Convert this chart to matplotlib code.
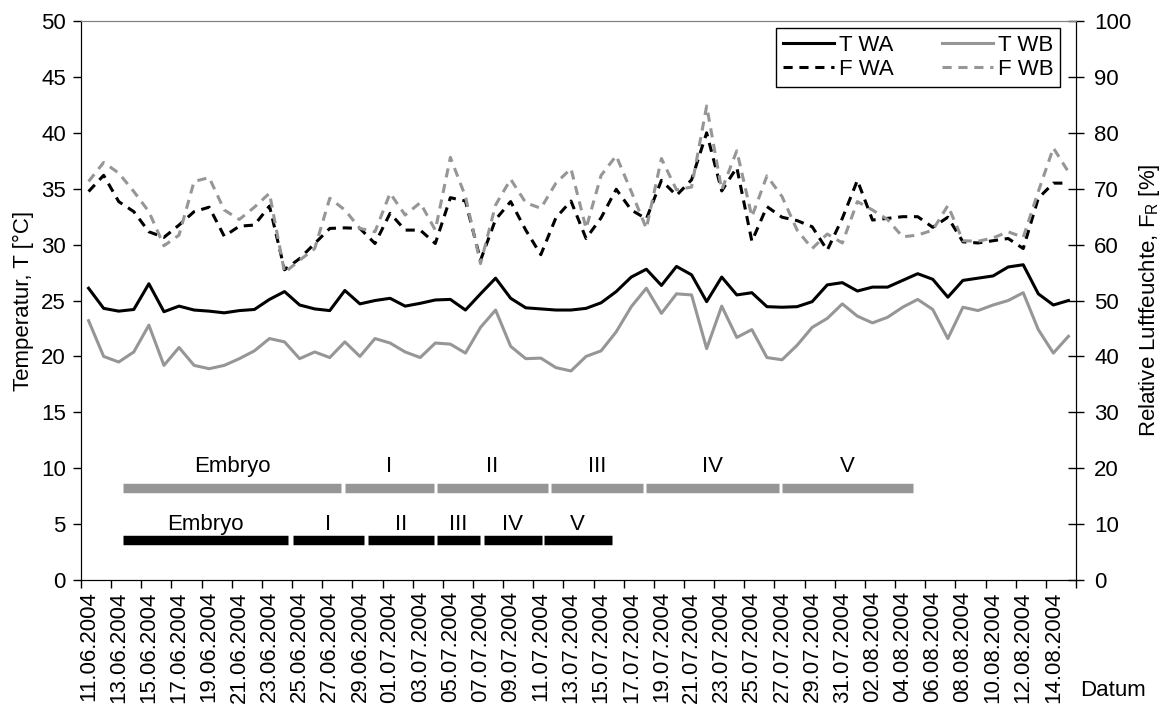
import numpy as np
import pandas as pd
import matplotlib
matplotlib.use('Agg')
import matplotlib.pyplot as plt

plt.rcParams['font.family'] = ['Liberation Sans', 'DejaVu Sans']
plt.rcParams['font.size'] = 16
plt.rcParams['mathtext.fontset'] = 'custom'
plt.rcParams['mathtext.rm'] = 'Liberation Sans'

dates = list(pd.date_range('2004-06-11', '2004-08-15').strftime('%d.%m.%Y'))

# Temperatur [°C]
t_wa = [26.1, 24.3, 24.05, 24.2, 26.5, 24.0, 24.5, 24.15, 24.05, 23.9, 24.1, 24.2, 25.1, 25.8,
        24.6, 24.25, 24.1, 25.9, 24.7, 25.0, 25.2, 24.5, 24.75, 25.05, 25.1, 24.15, 25.6, 27.0,
        25.2, 24.35, 24.25, 24.15, 24.15, 24.3, 24.8, 25.8, 27.1, 27.8, 26.35, 28.05, 27.3, 24.9,
        27.1, 25.5, 25.7, 24.45, 24.4, 24.45, 24.9, 26.4, 26.6, 25.85, 26.2, 26.2, 26.8, 27.4,
        26.9, 25.3, 26.8, 27.0, 27.2, 28.0, 28.2, 25.6, 24.6, 25.0]
t_wb = [23.2, 20.0, 19.5, 20.4, 22.8, 19.2, 20.8, 19.2, 18.9, 19.2, 19.8, 20.5, 21.6, 21.3,
        19.8, 20.4, 19.9, 21.3, 20.0, 21.6, 21.2, 20.4, 19.9, 21.2, 21.1, 20.3, 22.6, 24.15,
        20.9, 19.8, 19.85, 19.0, 18.7, 20.0, 20.5, 22.2, 24.45, 26.1, 23.85, 25.6, 25.5, 20.7,
        24.5, 21.7, 22.4, 19.9, 19.7, 21.0, 22.6, 23.4, 24.7, 23.6, 23.0, 23.5, 24.4, 25.1,
        24.2, 21.6, 24.4, 24.1, 24.6, 25.0, 25.7, 22.4, 20.3, 21.8]

# Relative Luftfeuchte [%]
f_wa = [69.5, 72.4, 67.7, 65.9, 62.3, 61.3, 63.5, 65.9, 66.7, 61.5, 63.3, 63.5, 66.9, 55.5,
        57.5, 60.2, 62.9, 63.0, 62.9, 60.2, 65.6, 62.6, 62.6, 60.2, 68.4, 67.8, 57.2, 64.5,
        67.7, 62.6, 58.2, 64.8, 67.8, 61.1, 64.8, 69.9, 66.2, 64.6, 71.5, 68.8, 71.6, 80.0,
        69.6, 73.8, 60.6, 66.8, 64.9, 64.3, 63.2, 59.0, 64.7, 71.5, 64.4, 64.7, 65.0, 65.0,
        63.1, 64.9, 60.5, 60.3, 60.7, 61.1, 59.3, 68.3, 71.0, 71.0]
f_wb = [71.3, 74.7, 72.8, 69.5, 65.9, 59.8, 61.7, 71.3, 72.0, 66.2, 64.5, 66.7, 69.2, 55.0,
        57.2, 59.3, 68.3, 66.2, 62.9, 62.3, 69.2, 65.3, 67.5, 62.6, 75.6, 68.6, 56.6, 67.1,
        71.7, 67.5, 66.5, 71.0, 73.6, 62.9, 72.4, 75.9, 69.5, 62.9, 75.4, 69.8, 70.3, 84.8,
        69.8, 76.8, 65.0, 72.3, 68.6, 62.6, 59.3, 61.9, 60.3, 67.7, 66.2, 64.5, 61.4, 61.7,
        62.6, 67.0, 60.7, 60.6, 61.2, 62.3, 61.3, 69.5, 77.3, 73.0]

# Entwicklungsstadien (Tagesindex)
phases = ['Embryo', 'I', 'II', 'III', 'IV', 'V']
wb_start = [2.3, 17.0, 23.1, 30.7, 37.0, 46.0]
wb_end = [16.75, 22.9, 30.5, 36.8, 45.8, 54.7]
wa_start = [2.3, 13.55, 18.55, 23.1, 26.2, 30.2]
wa_end = [13.2, 18.25, 22.9, 25.95, 30.1, 34.7]

GRAY = '#969696'
DASH = (0, (3, 2.2))

fig = plt.figure(figsize=(11.66, 7.13), dpi=100)
ax = fig.add_axes([0.0695, 0.1865, 0.8533, 0.784])
ax2 = ax.twinx()

x = np.arange(len(dates))
l1, = ax.plot(x, t_wa, color='black', lw=2.2, label='T WA')
l2, = ax.plot(x, t_wb, color=GRAY, lw=2.2, label='T WB')
l3, = ax2.plot(x, f_wa, color='black', lw=2.2, ls=DASH, label='F WA')
l4, = ax2.plot(x, f_wb, color=GRAY, lw=2.2, ls=DASH, label='F WB')

for s, e, name in zip(wb_start, wb_end, phases):
    ax.plot([s, e], [8.23, 8.23], color=GRAY, lw=6.8, solid_capstyle='butt')
    ax.text((s + e) / 2, 9.66, name, ha='center', va='baseline')
for s, e, name in zip(wa_start, wa_end, phases):
    ax.plot([s, e], [3.55, 3.55], color='black', lw=6.8, solid_capstyle='butt')
    ax.text((s + e) / 2, 4.47, name, ha='center', va='baseline')

ax.set_xlim(-0.5, len(dates) - 0.5)
ax.set_ylim(0, 50)
ax2.set_ylim(0, 100)
ax.set_yticks(np.arange(0, 51, 5))
ax2.set_yticks(np.arange(0, 101, 10))

ax.set_xticks(np.arange(-0.5, len(dates), 2))
ax.set_xticklabels([])
ax.set_xticks(x[::2], minor=True)
ax.set_xticklabels(dates[::2], minor=True, rotation=90)
ax.tick_params(axis='x', which='major', direction='out', length=6, width=1)
ax.tick_params(axis='x', which='minor', length=0, pad=8)
ax.tick_params(axis='y', direction='out', length=6, width=1, pad=5)
ax2.tick_params(axis='y', direction='inout', length=12, width=1, pad=7)

for a in (ax, ax2):
    a.spines['top'].set_color('#808080')
    for sp in ('left', 'right', 'bottom'):
        a.spines[sp].set_color('black')

ax.set_ylabel('Temperatur, T [°C]', labelpad=5)
ax2.set_ylabel('Relative Luftfeuchte, F$_\\mathrm{R}$ [%]', labelpad=4)
fig.text(0.9545, 0.032, 'Datum', ha='center', va='center')

leg = ax2.legend([l1, l3, l2, l4], ['T WA', 'F WA', 'T WB', 'F WB'], ncol=2,
                 loc='upper right', bbox_to_anchor=(0.984, 0.9875), borderaxespad=0,
                 fancybox=False, edgecolor='black', framealpha=1,
                 handlelength=2.3, handletextpad=0.2, columnspacing=2.2,
                 labelspacing=0.15, borderpad=0.3)
leg.get_frame().set_linewidth(1)

fig.savefig('out.png', dpi=100)
